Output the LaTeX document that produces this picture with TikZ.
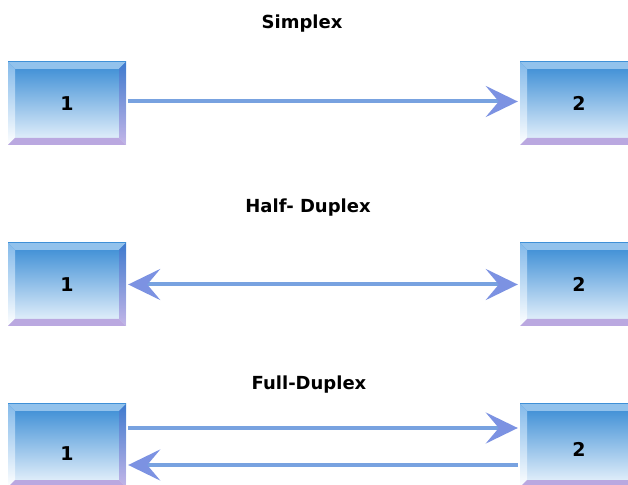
\documentclass[tikz,border=0pt]{standalone}
\usepackage{fontspec}
\setsansfont{DejaVu Sans}
\usetikzlibrary{arrows.meta,calc}

\definecolor{boxtop}{RGB}{54,138,212}
\definecolor{boxmid}{RGB}{112,172,228}
\definecolor{boxbot}{RGB}{238,246,253}
\definecolor{bevtop}{RGB}{146,194,236}
\definecolor{bevleft}{RGB}{132,186,234}
\definecolor{bevright}{RGB}{62,122,206}
\definecolor{bevrightlow}{RGB}{196,182,232}
\definecolor{bevbot}{RGB}{186,168,224}
\definecolor{linkblue}{RGB}{120,162,224}
\definecolor{headblue}{RGB}{124,146,226}

\newcommand{\bevw}{7pt}

\tikzset{
  x=1pt, y=1pt,
  num/.style={font=\sffamily\bfseries\fontsize{19}{22}\selectfont, inner sep=0pt},
  station/.style={
    minimum width=118pt, minimum height=83pt, inner sep=0pt, num,
    top color=boxtop, middle color=boxmid, bottom color=boxbot,
    path picture={
      \coordinate (pnw) at (path picture bounding box.north west);
      \coordinate (pne) at (path picture bounding box.north east);
      \coordinate (psw) at (path picture bounding box.south west);
      \coordinate (pse) at (path picture bounding box.south east);
      % top bevel
      \fill[bevtop] (pnw) -- (pne) -- ($(pne)+(-\bevw,-\bevw)$) -- ($(pnw)+(\bevw,-\bevw)$) -- cycle;
      % left bevel
      \shade[top color=bevleft, bottom color=white]
        (pnw) -- ($(pnw)+(\bevw,-\bevw)$) -- ($(psw)+(\bevw,\bevw)$) -- (psw) -- cycle;
      % right bevel
      \shade[top color=bevright, bottom color=bevrightlow]
        (pne) -- (pse) -- ($(pse)+(-\bevw,\bevw)$) -- ($(pne)+(-\bevw,-\bevw)$) -- cycle;
      % bottom bevel
      \fill[bevbot] (psw) -- (pse) -- ($(pse)+(-\bevw,\bevw)$) -- ($(psw)+(\bevw,\bevw)$) -- cycle;
    }
  },
  heading/.style={font=\sffamily\bfseries\fontsize{18}{21}\selectfont, inner sep=0pt},
  link/.style={draw=linkblue, line width=4pt, shorten <=2pt, shorten >=2pt},
  tip/.tip={Stealth[length=32pt, width=31pt, inset=13pt, fill=headblue, color=headblue]}
}

\begin{document}
\begin{tikzpicture}
  \fill[white] (0,0) rectangle (628,484);
  \clip (0,0) rectangle (628,484);

  % Simplex
  \node[heading] (tsim) at (302,460) {Simplex};
  \node[station] (s1) at (67,380.5) {1};
  \node[station] (s2) at (579,380.5) {2};
  \draw[link, -tip] ([yshift=2pt]s1.east) -- ([yshift=2pt]s2.west);

  % Half-duplex
  \node[heading] (thalf) at (308,276) {Half- Duplex};
  \node[station] (h1) at (67,199.5) {1};
  \node[station] (h2) at (579,199.5) {2};
  \draw[link, tip-tip] (h1.east) -- (h2.west);

  % Full-duplex
  \node[heading] (tfull) at (309,99) {Full-Duplex};
  \node[station, label={[num, yshift=-8pt]center:1}] (f1) at (67,38.5) {};
  \node[station, label={[num, yshift=-4pt]center:2}] (f2) at (579,38.5) {};
  \draw[link, -tip] ([yshift=17.5pt]f1.east) -- ([yshift=17.5pt]f2.west);
  \draw[link, -tip] ([yshift=-19.5pt]f2.west) -- ([yshift=-19.5pt]f1.east);
\end{tikzpicture}
\end{document}
